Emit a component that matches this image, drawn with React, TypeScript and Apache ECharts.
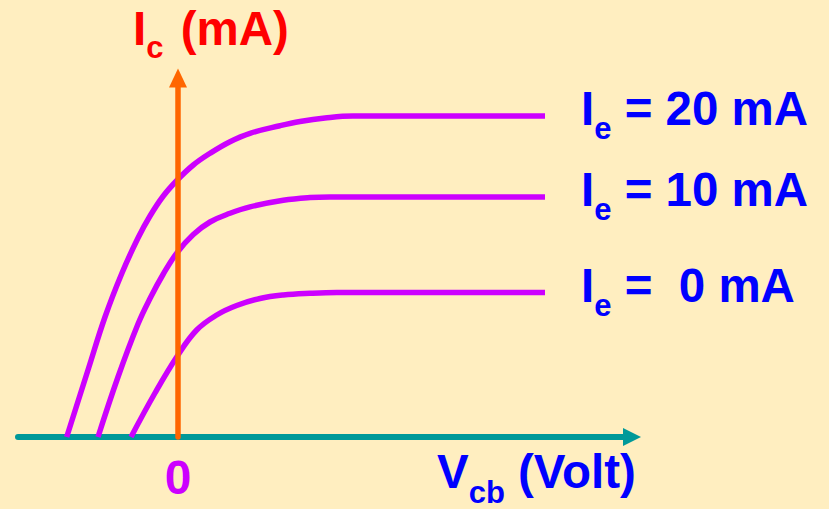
import React, { useEffect, useRef } from 'react';
import * as echarts from 'echarts';

// Curves: [Vcb, Ic] in arbitrary chart units
const curveIe20: [number, number][] = [
  [-1.113, 0], [-0.9, 6.7], [-0.73, 12.0], [-0.56, 16.4], [-0.4, 19.9], [-0.28, 22.1],
  [-0.147, 24.1], [-0.007, 25.7], [0.153, 27.2], [0.32, 28.37], [0.52, 29.53], [0.72, 30.37],
  [1.02, 31.13], [1.22, 31.55], [1.47, 31.9], [1.75, 32.1], [3.67, 32.1],
];
const curveIe10: [number, number][] = [
  [-0.8, 0], [-0.6, 6.0], [-0.4, 11.3], [-0.28, 13.85], [-0.147, 16.3], [-0.007, 18.47],
  [0.153, 20.25], [0.32, 21.5], [0.52, 22.37], [0.72, 23.01], [1.053, 23.67], [1.32, 23.94],
  [1.52, 24.0], [3.67, 24.0],
];
const curveIe0: [number, number][] = [
  [-0.47, 0], [-0.23, 4.4], [0, 8.2], [0.187, 10.7], [0.387, 12.2], [0.587, 13.15],
  [0.82, 13.85], [1.053, 14.2], [1.32, 14.37], [1.59, 14.45], [3.67, 14.45],
];
const curves = [curveIe20, curveIe10, curveIe0];
const seriesNames = ['Ie = 20 mA', 'Ie = 10 mA', 'Ie = 0 mA'];
const seriesLabels = ['{m|I}{s|e}{m| = 20 mA}', '{m|I}{s|e}{m| = 10 mA}', '{m|I}{s|e}{m| =  0 mA}'];
const xTickLabels = [0];
const yTitle = '{m|I}{s|c  }{m|(mA)}';
const xTitle = '{m|V}{s|cb}{m| (Volt)}';

const FONT = '"Liberation Sans", Arial, Helvetica, sans-serif';
const PURPLE = '#CC00FF';
const BLUE = '#0000FF';
const RED = '#FF0000';

const mainRich = (color: string) => ({
  fontSize: 47.5, fontWeight: 'bold', fontFamily: FONT, color, verticalAlign: 'top',
});
const subRich = (color: string, pad: number) => ({
  fontSize: 31, fontWeight: 'bold', fontFamily: FONT, color, verticalAlign: 'top',
  padding: [pad, 0, 0, 0],
});

export default function App() {
  const ref = useRef<HTMLDivElement>(null);
  useEffect(() => {
    if (!ref.current) return;
    const chart = echarts.init(ref.current, undefined, { renderer: 'svg' });
    chart.setOption({
      animation: false,
      backgroundColor: '#FFEEC0',
      grid: { left: 18, right: 197, top: 78, bottom: 72, containLabel: false },
      title: [
        {
          text: yTitle, left: 133, top: 4.75, padding: 0,
          textStyle: { rich: { m: mainRich(RED), s: subRich(RED, 26.75) } },
        },
        {
          text: xTitle, left: 437, top: 447.5, padding: 0,
          textStyle: { rich: { m: mainRich(BLUE), s: subRich(BLUE, 29) } },
        },
      ],
      xAxis: {
        type: 'value', min: -1.6, max: 4.54, z: 1,
        axisLine: {
          show: true, symbol: ['none', 'triangle'], symbolSize: [18, 18],
          lineStyle: { color: '#009999', width: 6 },
        },
        axisTick: { show: false },
        splitLine: { show: false },
        axisLabel: {
          customValues: xTickLabels, color: PURPLE, fontSize: 48, fontWeight: 'bold',
          fontFamily: FONT, margin: 16, lineHeight: 48,
        },
      },
      yAxis: {
        type: 'value', min: 0, max: 35.9, z: 5,
        axisLine: {
          show: true, onZero: true, symbol: ['none', 'triangle'], symbolSize: [18, 19],
          lineStyle: { color: '#FF6600', width: 5.5 },
        },
        axisTick: { show: false },
        axisLabel: { show: false },
        splitLine: { show: false },
      },
      series: curves.map((data, i) => ({
        name: seriesNames[i],
        type: 'line',
        data,
        smooth: 0.4,
        showSymbol: false,
        symbol: 'none',
        silent: true,
        clip: false,
        lineStyle: { color: PURPLE, width: 5.5, cap: 'butt', join: 'round' },
        endLabel: {
          show: true,
          formatter: seriesLabels[i],
          distance: 36,
          offset: [0, -1.4],
          rich: { m: mainRich(BLUE), s: subRich(BLUE, 28.75) },
        },
      })),
    });
    return () => chart.dispose();
  }, []);
  return (
    <div
      ref={ref}
      style={{ position: 'fixed', left: 0, top: 0, width: 829, height: 509 }}
    />
  );
}
